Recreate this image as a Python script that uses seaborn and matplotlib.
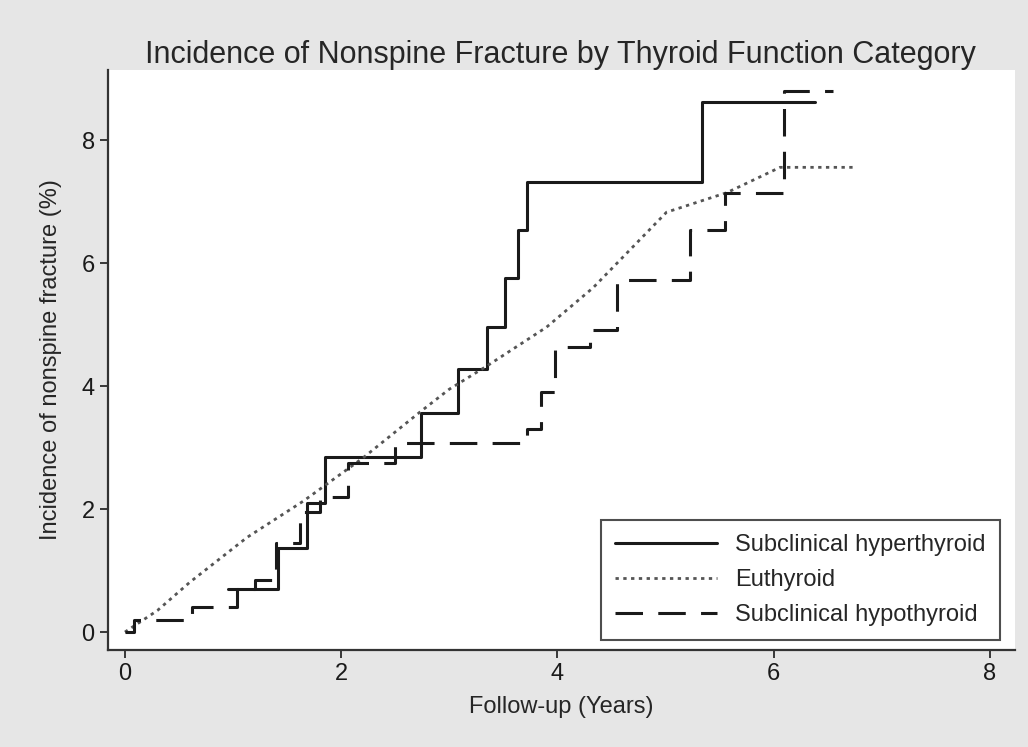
import numpy as np
import pandas as pd
import matplotlib.pyplot as plt
import seaborn as sns

# values
hyper_t = [0.95, 1.42, 1.68, 1.85, 2.74, 3.08, 3.35, 3.52, 3.64, 3.72, 5.34, 6.38]
hyper_y = [0.70, 1.37, 2.10, 2.85, 3.56, 4.28, 4.96, 5.76, 6.54, 7.32, 8.62, 8.62]

eu_t = [0.0, 0.30, 0.60, 1.13, 1.65, 2.20, 2.73, 3.00, 3.35, 3.90, 4.33, 4.64, 5.01, 5.57, 6.06, 6.77]
eu_y = [0.0, 0.35, 0.81, 1.54, 2.13, 2.83, 3.58, 3.95, 4.33, 4.96, 5.60, 6.16, 6.83, 7.15, 7.56, 7.56]

hypo_t = [0.0, 0.08, 0.62, 1.04, 1.20, 1.40, 1.62, 1.80, 2.06, 2.50, 3.72, 3.85, 3.98, 4.30, 4.55, 5.23, 5.55, 6.10, 6.55]
hypo_y = [0.0, 0.20, 0.40, 0.70, 0.85, 1.45, 1.95, 2.20, 2.75, 3.07, 3.30, 3.90, 4.63, 4.91, 5.72, 6.54, 7.15, 8.81, 8.81]

labels = ["Subclinical hyperthyroid", "Euthyroid", "Subclinical hypothyroid"]

sns.set_style("white")
plt.rcParams["font.family"] = ["Liberation Sans", "DejaVu Sans"]

fig = plt.figure(figsize=(10.28, 7.47), dpi=100, facecolor="#e6e6e6")
ax = fig.add_axes([0.105, 0.130, 0.882, 0.776])
ax.set_facecolor("white")

sns.lineplot(x=hyper_t, y=hyper_y, ax=ax, color="#1a1a1a", lw=2.2,
             drawstyle="steps-post", estimator=None, label=labels[0])
sns.lineplot(x=eu_t, y=eu_y, ax=ax, color="#555555", lw=2.0,
             linestyle=(0, (1.2, 1.6)), estimator=None, label=labels[1])
sns.lineplot(x=hypo_t, y=hypo_y, ax=ax, color="#1a1a1a", lw=2.2,
             drawstyle="steps-post", linestyle=(0, (9, 5)), estimator=None, label=labels[2])

ax.set_xlim(-0.157, 8.23)
ax.set_ylim(-0.29, 9.14)
ax.set_xticks([0, 2, 4, 6, 8])
ax.set_yticks([0, 2, 4, 6, 8])
ax.tick_params(axis="both", direction="out", length=6, width=1.2, labelsize=17, colors="#1a1a1a")
ax.tick_params(axis="both", which="both", bottom=True, left=True)
for s in ["top", "right"]:
    ax.spines[s].set_visible(False)
for s in ["left", "bottom"]:
    ax.spines[s].set_color("#333333")
    ax.spines[s].set_linewidth(1.6)

ax.set_xlabel("Follow-up (Years)", fontsize=17, labelpad=8)
ax.set_ylabel("Incidence of nonspine fracture (%)", fontsize=17, labelpad=14)
fig.suptitle("Incidence of Nonspine Fracture by Thyroid Function Category",
             x=0.545, y=0.947, fontsize=22)

leg = ax.legend(loc="lower right", bbox_to_anchor=(0.984, 0.017), fontsize=17,
                frameon=True, fancybox=False, edgecolor="#222222", handlelength=4.3,
                handletextpad=0.8, borderpad=0.6, labelspacing=0.55, borderaxespad=0)
leg.get_frame().set_linewidth(1.5)

fig.savefig("out.png", dpi=100, facecolor=fig.get_facecolor())
